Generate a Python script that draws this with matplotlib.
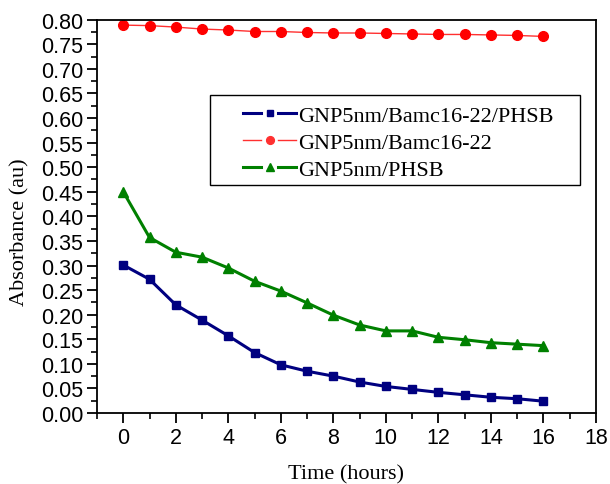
import matplotlib
matplotlib.use("Agg")
import matplotlib.pyplot as plt
from matplotlib.ticker import MultipleLocator, FormatStrFormatter
from matplotlib.legend_handler import HandlerBase
from matplotlib.lines import Line2D
from matplotlib.patches import Rectangle

hours = list(range(17))
bamc_phsb = [0.301, 0.272, 0.220, 0.189, 0.157, 0.123, 0.098, 0.085, 0.075, 0.063,
             0.054, 0.048, 0.042, 0.037, 0.032, 0.029, 0.024]
bamc = [0.789, 0.788, 0.785, 0.781, 0.779, 0.776, 0.776, 0.774, 0.773, 0.773,
        0.772, 0.771, 0.770, 0.770, 0.769, 0.768, 0.766]
phsb = [0.450, 0.357, 0.327, 0.317, 0.295, 0.268, 0.248, 0.224, 0.199, 0.179,
        0.167, 0.167, 0.154, 0.149, 0.143, 0.140, 0.137]
labels = ["GNP5nm/Bamc16-22/PHSB", "GNP5nm/Bamc16-22", "GNP5nm/PHSB"]


class GapHandler(HandlerBase):
    """Legend key: line segment, marker, line segment with small gaps."""

    def create_artists(self, legend, orig, xdescent, ydescent, width, height,
                       fontsize, trans):
        x0 = -xdescent
        x1 = x0 + width
        xm = (x0 + x1) / 2
        gap = 0.16 * width
        y = height / 2 - ydescent
        kw = dict(color=orig.get_color(), lw=orig.get_linewidth(), transform=trans)
        left = Line2D([x0, xm - gap], [y, y], **kw)
        right = Line2D([xm + gap, x1], [y, y], **kw)
        mark = Line2D([xm], [y], ls="none", marker=orig.get_marker(),
                      ms=orig.get_markersize() * 0.8, color=orig.get_color(),
                      transform=trans)
        return [left, right, mark]


fig = plt.figure(figsize=(6.1, 4.85), dpi=100)
ax = fig.add_axes([0.159, 0.1464, 0.818, 0.8109])

l1, = ax.plot(hours, bamc_phsb, color="#000080", lw=2.2, marker="s", ms=6, label=labels[0])
l2, = ax.plot(hours, bamc, color="#ff3030", lw=1.0, marker="o", ms=7, mfc="#ff0000",
              mec="#ff0000", label=labels[1])
l3, = ax.plot(hours, phsb, color="#008000", lw=2.2, marker="^", ms=7.5, label=labels[2])

ax.set_xlim(-1, 18)
ax.set_ylim(0, 0.80)
ax.xaxis.set_major_locator(MultipleLocator(2))
ax.xaxis.set_minor_locator(MultipleLocator(1))
ax.yaxis.set_major_locator(MultipleLocator(0.05))
ax.yaxis.set_minor_locator(MultipleLocator(0.025))
ax.yaxis.set_major_formatter(FormatStrFormatter("%.2f"))

ax.tick_params(which="major", direction="out", length=7, width=1.3,
               labelsize=15.5, pad=3)
ax.tick_params(which="minor", direction="out", length=4, width=1.2)
ax.tick_params(axis="x", which="both", top=False)
ax.tick_params(axis="y", which="both", right=False)
for lab in ax.get_xticklabels() + ax.get_yticklabels():
    lab.set_fontfamily("Liberation Sans")
for s in ax.spines.values():
    s.set_linewidth(1.3)

ax.set_xlabel("Time (hours)", family="Liberation Serif", fontsize=16, labelpad=12)
ax.set_ylabel("Absorbance (au)", family="Liberation Serif", fontsize=16)
ax.yaxis.set_label_coords(-0.136, 0.463)

# legend frame
ax.add_patch(Rectangle((0.2265, 0.580), 0.7415, 0.228, transform=ax.transAxes,
                       fill=False, ec="black", lw=1.0, zorder=5))
leg = ax.legend(handles=[l1, l2, l3], loc="upper left", bbox_to_anchor=(0.2926, 0.783),
                borderaxespad=0, borderpad=0, frameon=False,
                prop={"family": "Liberation Serif", "size": 16}, numpoints=1,
                handlelength=2.4, handletextpad=0.1, labelspacing=0.3,
                handler_map={Line2D: GapHandler()})

fig.savefig("out.png", dpi=100)
